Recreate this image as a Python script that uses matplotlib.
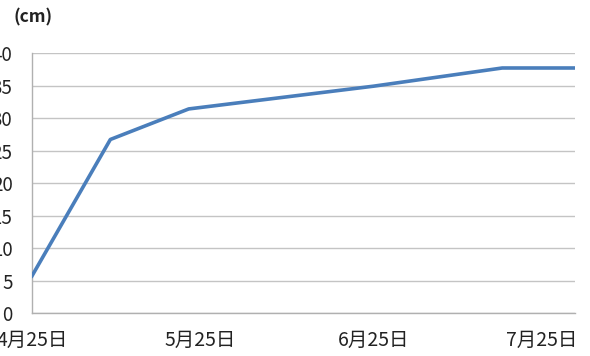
import datetime as dt
import matplotlib
matplotlib.use("Agg")
import matplotlib.pyplot as plt

plt.rcParams['font.family'] = ['Noto Sans CJK JP', 'DejaVu Sans']

# plant height measurements
dates = [dt.date(2012, 4, 25), dt.date(2012, 5, 9), dt.date(2012, 5, 23),
         dt.date(2012, 6, 25), dt.date(2012, 7, 18), dt.date(2012, 7, 31)]
height_cm = [5.7, 26.7, 31.4, 34.9, 37.7, 37.7]

tick_dates = [dt.date(2012, 4, 25), dt.date(2012, 5, 25),
              dt.date(2012, 6, 25), dt.date(2012, 7, 25)]
tick_labels = ["4月25日", "5月25日", "6月25日", "7月25日"]
y_ticks = [0, 5, 10, 15, 20, 25, 30, 35, 40]

fig = plt.figure(figsize=(5.9, 3.56), dpi=100)
ax = fig.add_axes([0.0542, 0.1208, 0.9204, 0.7302])

ax.plot(dates, height_cm, color="#4a7ebb", lw=2.6, solid_joinstyle="round", zorder=3)

ax.set_xlim(dt.date(2012, 4, 25), dt.date(2012, 7, 31))
ax.set_ylim(0, 40)
ax.set_xticks(tick_dates)
ax.set_xticklabels(tick_labels)
ax.set_yticks(y_ticks)

ax.yaxis.grid(True, color="#c4c4c4", lw=1)
ax.set_axisbelow(True)
for s in ["top", "right"]:
    ax.spines[s].set_visible(False)
for s in ["left", "bottom"]:
    ax.spines[s].set_color("#b0b0b0")
    ax.spines[s].set_linewidth(1)

ax.tick_params(axis="y", length=0, pad=14, labelsize=13.5, labelcolor="#222222")
ax.tick_params(axis="x", length=0, pad=12, labelsize=14, labelcolor="#222222")

fig.text(0.056, 0.95, "(cm)", ha="center", va="center", fontsize=12.5,
         fontweight="bold", color="#222222")

fig.savefig("out.png", dpi=100)
